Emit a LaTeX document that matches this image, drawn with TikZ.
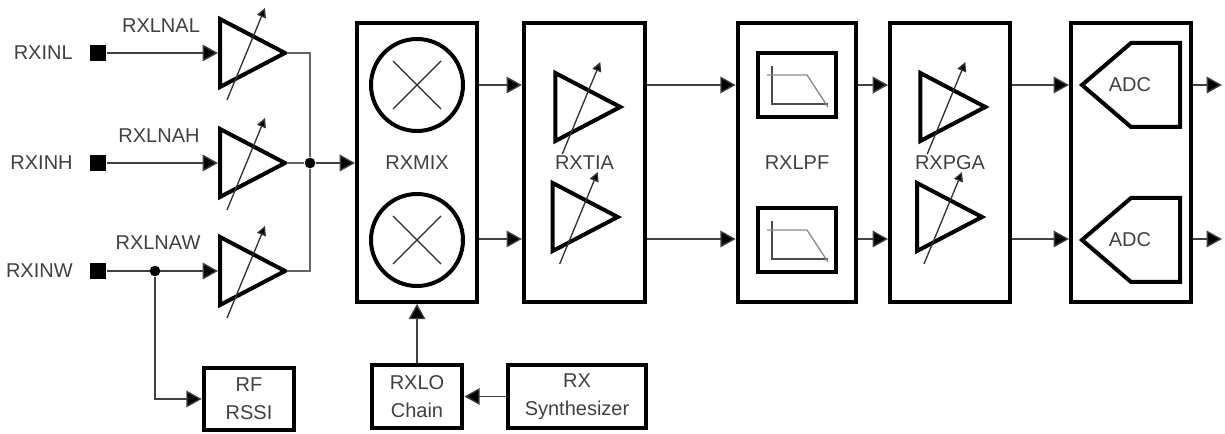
\documentclass[tikz,border=0pt]{standalone}
\usepackage{fontspec}
\setmainfont{Liberation Sans}
\usetikzlibrary{arrows.meta,calc}

\begin{document}
\begin{tikzpicture}[
        %One unit is one pixel of the drawing, y runs downwards
        x=0.75pt, y=-0.75pt,
        every node/.style={text=black!75, font=\fontsize{15}{19}\selectfont},
        wire/.style={line width=1pt, draw=black!75, -{Triangle[length=11.5pt,width=12.5pt,fill=black]}},
        plain wire/.style={line width=1pt, draw=black!60},
        block/.style={draw=black, line width=3pt, inner sep=0pt, align=center},
        pad/.style={fill=black, minimum size=12.5pt, inner sep=0pt},
        junction/.style={circle, fill=black, minimum size=8pt, inner sep=0pt},
        pics/vga/.style={
            code={
                \draw[line width=3pt, draw=black, miter limit=4] (-34,-34) -- (31,0) -- (-34,34) -- cycle;
                \draw[line width=1pt, draw=black!80, -{Triangle[length=7pt,width=7pt,fill=black]}] (-27,47) -- (11,-45);
                \coordinate (-in) at (-36,0);
                \coordinate (-out) at (33,0);
            }
        },
        pics/lpfplot/.style={
            code={
                \draw[line width=1pt, draw=black!70] (-25,-19) -- (-25,19) -- (31,19);
                \draw[line width=1pt, draw=black!45] (-30,-10) -- (10,-10) -- (31,22);
            }
        },
    ]
    \useasboundingbox (0,0) rectangle (1225,434);

    % Input pads and labels
    \node[pad] (padl) at (98,53) {};
    \node[pad] (padh) at (98,163) {};
    \node[pad] (padw) at (98,271) {};
    \node[left=9pt] (rxinl) at (padl.west) {RXINL};
    \node[left=9pt] (rxinh) at (padh.west) {RXINH};
    \node[left=9pt] (rxinw) at (padw.west) {RXINW};

    % LNAs
    \pic (lnal) at (254,53) {vga};
    \pic (lnah) at (254,163) {vga};
    \pic (lnaw) at (254,271) {vga};
    \node (lnaltext) at (161,26) {RXLNAL};
    \node (lnahtext) at (159,136) {RXLNAH};
    \node (lnawtext) at (158,243) {RXLNAW};
    \draw[wire] (padl) -- (lnal-in);
    \draw[wire] (padh) -- (lnah-in);
    \draw[wire] (padw) -- (lnaw-in);

    % Blocks
    \node[block, minimum width=90pt, minimum height=209pt] (rxmix) at (417,162.5) {RXMIX};
    \node[block, minimum width=91pt, minimum height=209pt] (rxtia) at (584.5,162.5) {RXTIA};
    \node[block, minimum width=89pt, minimum height=209pt] (rxlpf) at (797,162.5) {RXLPF};
    \node[block, minimum width=90pt, minimum height=209pt] (rxpga) at (950,162.5) {RXPGA};
    \node[block, minimum width=90pt, minimum height=209pt] (adcbox) at (1131,162.5) {};
    \node[block, minimum width=68pt, minimum height=46.5pt] (rssi) at (249,399) {RF\\[2pt]RSSI};
    \node[block, minimum width=68pt, minimum height=47pt] (rxlo) at (417,396.5) {RXLO\\[2pt]Chain};
    \node[block, minimum width=103pt, minimum height=47pt] (synth) at (577,396.5) {RX\\[2pt]Synthesizer};

    % Summing wire
    \node[junction] (sum) at (310,163) {};
    \draw[plain wire] (lnal-out) -| (sum);
    \draw[plain wire] (lnaw-out) -| (sum);
    \draw[plain wire] (lnah-out) -- (sum);
    \draw[wire] (sum) -- (sum -| rxmix.west);

    % RSSI tap and LO path
    \node[junction] (tap) at (155,271) {};
    \draw[wire] (tap) |- (rssi.west);
    \draw[wire] (rxlo) -- (rxmix);
    \draw[wire] (synth) -- (rxlo);

    % Mixers
    \foreach \name/\ypos in {mixi/85, mixq/240} {
        \node[circle, draw=black, line width=3pt, minimum size=69pt, inner sep=0pt] (\name) at (417,\ypos) {};
        \draw[line width=1pt, draw=black!85] ($(\name.center)+(-24,-24)$) -- ($(\name.center)+(24,24)$);
        \draw[line width=1pt, draw=black!85] ($(\name.center)+(-24,24)$) -- ($(\name.center)+(24,-24)$);
    }

    % Amplifiers inside RXTIA and RXPGA
    \pic at (589.3,107) {vga};
    \pic at (586.7,217) {vga};
    \pic at (954.3,107) {vga};
    \pic at (951,217) {vga};

    % Filters
    \foreach \name/\ypos in {lpfi/85, lpfq/240} {
        \node[block, minimum width=58.5pt, minimum height=47.5pt] (\name) at (797,\ypos) {};
        \pic at (797,\ypos) {lpfplot};
    }

    % Converters
    \foreach \name/\ypos in {adci/85, adcq/240} {
        \draw[line width=3pt, draw=black] (1082,\ypos) -- (1131,\ypos-42) -- (1180,\ypos-42) -- (1180,\ypos+42) -- (1131,\ypos+42) -- cycle;
        \node (\name) at (1130,\ypos) {ADC};
    }

    % Signal path, two rows
    \foreach \ypos/\row in {85/i, 239/q} {
        \coordinate (end\row) at (1222,\ypos);
        \draw[wire] (rxmix.east |- end\row) -- (rxtia.west |- end\row);
        \draw[wire] (rxtia.east |- end\row) -- (rxlpf.west |- end\row);
        \draw[wire] (rxlpf.east |- end\row) -- (rxpga.west |- end\row);
        \draw[wire] (rxpga.east |- end\row) -- (adcbox.west |- end\row);
        \draw[wire] (adcbox.east |- end\row) -- (end\row);
    }
\end{tikzpicture}
\end{document}
